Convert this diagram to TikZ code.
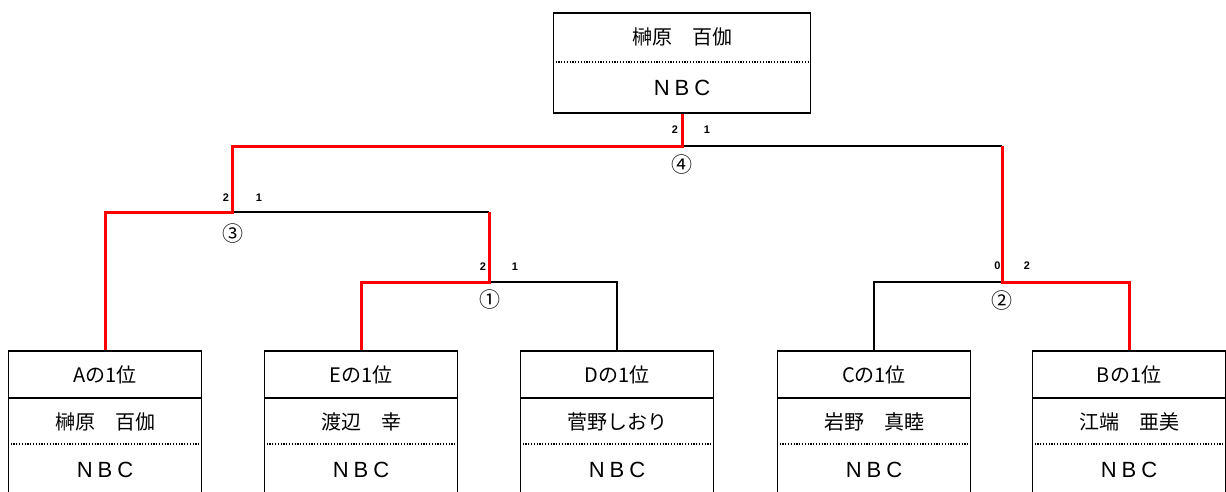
\documentclass[tikz,border=0pt]{standalone}
\usepackage{fontspec}
\newfontfamily\jp{Noto Sans CJK JP}
\newfontfamily\lat{Liberation Sans}
\begin{document}
\begin{tikzpicture}[x=1pt,y=-1pt,
  bbox/.style={draw, line width=1.6pt, minimum width=193pt, minimum height=150pt, anchor=north, inner sep=0pt},
  topbox/.style={draw, line width=1.6pt, minimum width=257pt, minimum height=100pt, anchor=north, inner sep=0pt},
  jtxt/.style={font=\jp\fontsize{20}{24}\selectfont, inner sep=0pt},
  nbc/.style={font=\lat\fontsize{22}{26}\selectfont, inner sep=0pt},
  num/.style={font=\lat\bfseries\fontsize{11}{13}\selectfont, inner sep=0pt},
  circ/.style={font=\jp\fontsize{21}{24}\selectfont, inner sep=0pt},
  divline/.style={line width=1.6pt},
  dotline/.style={line width=1.3pt, dash pattern=on 1.3pt off 1.5pt},
  winline/.style={red, line width=3pt, line join=miter},
  loseline/.style={black, line width=1.5pt}]
\useasboundingbox (0,0) rectangle (1226,491);
\clip (0,0) rectangle (1226,491);
% top box
\node[topbox] (T) at (682,12) {};
\draw[dotline] (T.west |- 0,62) -- (T.east |- 0,62);
\node[jtxt] (Tn) at (682,37) {榊原　百伽};
\node[nbc] (Tc) at (682,88) {N\hspace{5pt}B\hspace{5pt}C};
% bottom boxes
\foreach \id/\cx/\rank/\name in {A/105/Aの1位/榊原　百伽, E/361/Eの1位/渡辺　幸, D/617/Dの1位/菅野しおり, C/874/Cの1位/岩野　真睦, B/1129/Bの1位/江端　亜美}{
  \node[bbox] (\id) at (\cx,350) {};
  \draw[divline] (\id.west |- 0,398) -- (\id.east |- 0,398);
  \draw[dotline] (\id.west |- 0,444) -- (\id.east |- 0,444);
  \node[jtxt] (\id r) at (\cx,375) {\rank};
  \node[jtxt] (\id n) at (\cx,422) {\name};
  \node[nbc] (\id c) at (\cx,470) {N\hspace{5pt}B\hspace{5pt}C};
}
% match points
\coordinate (m3) at (232,212);
\coordinate (m1) at (489,282);
\coordinate (m2) at (1002,282);
\coordinate (m4) at (682,146);
% score labels
\node[num] (s4l) at (675,130) {2};
\node[num] (s4r) at (707,130) {1};
\node[num] (s3l) at (226,198) {2};
\node[num] (s3r) at (259,198) {1};
\node[num] (s1l) at (483,267) {2};
\node[num] (s1r) at (515,267) {1};
\node[num] (s2l) at (997.5,266) {0};
\node[num] (s2r) at (1027,266) {2};
% match numbers
\node[circ] (c4) at (682,165) {④};
\node[circ] (c3) at (233,234) {③};
\node[circ] (c1) at (490,300) {①};
\node[circ] (c2) at (1002,301) {②};
% losing lines
\draw[loseline] (m3) -- (m1 |- m3);
\draw[loseline] (m1) -| (D.north);
\draw[loseline] (C.north) |- (m2);
\draw[loseline] (m4) -- (m2 |- m4);
% winning lines
\draw[winline] (A.north) |- (m3) -- (m3 |- m4) -- (m4) -- (T.south);
\draw[winline] (E.north) |- (m1) -- (m1 |- m3);
\draw[winline] (B.north) |- (m2) -- (m2 |- m4);
\end{tikzpicture}
\end{document}
